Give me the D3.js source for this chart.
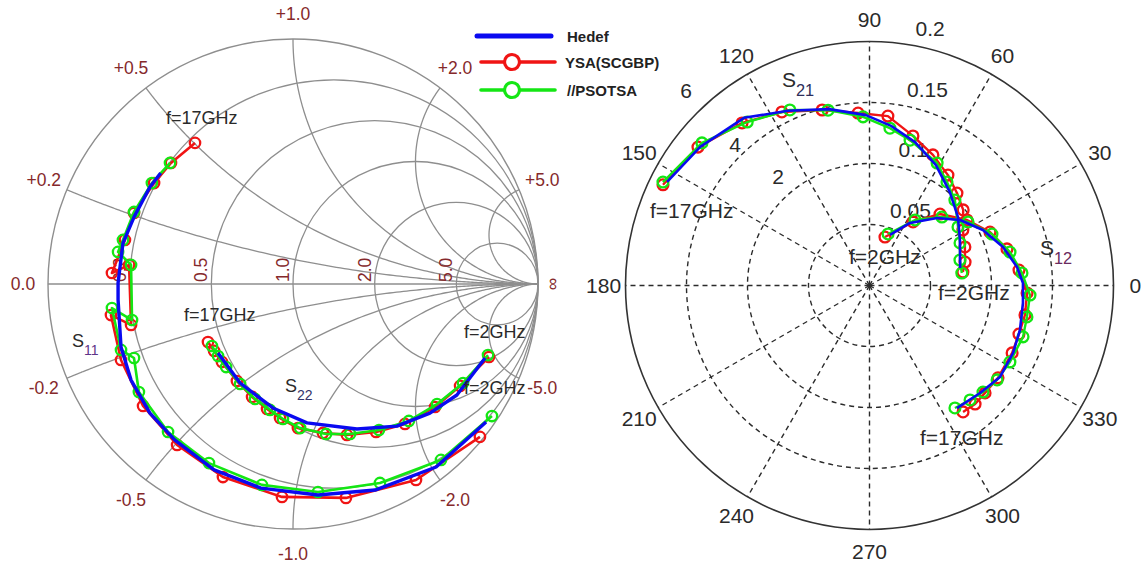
<!DOCTYPE html>
<html>
<head>
<meta charset="utf-8">
<script src="https://cdn.jsdelivr.net/npm/d3@7"></script>
<style>
  html, body { margin: 0; padding: 0; background: #fff; }
  svg { display: block; font-family: "Liberation Sans", Arial, Helvetica, sans-serif; }
</style>
</head>
<body>
<svg id="chart" width="1147" height="570"></svg>
<script>
// ---------- Smith chart data: reflection coefficient [Re, Im], 17 GHz -> 2 GHz ----------
const s11Hedef = [[-0.540,0.453],[-0.584,0.396],[-0.649,0.273],[-0.694,0.167],[-0.714,0.004],[-0.714,-0.065],
  [-0.702,-0.257],[-0.661,-0.392],[-0.584,-0.527],[-0.482,-0.637],[-0.322,-0.759],[-0.131,-0.833],
  [0.102,-0.861],[0.335,-0.841],[0.584,-0.747],[0.788,-0.563]];
const s11Ysa = [[-0.400,0.576],[-0.498,0.494],[-0.567,0.412],[-0.649,0.290],[-0.686,0.180],[-0.739,0.045],
  [-0.669,0.078],[-0.661,-0.167],[-0.743,-0.127],[-0.702,-0.310],[-0.612,-0.498],[-0.473,-0.657],
  [-0.286,-0.788],[-0.045,-0.869],[0.216,-0.873],[0.502,-0.800],[0.763,-0.624]];
const s11Pso = [[-0.502,0.494],[-0.576,0.412],[-0.649,0.294],[-0.694,0.180],[-0.714,0.131],[-0.661,0.078],
  [-0.657,-0.147],[-0.739,-0.098],[-0.702,-0.269],[-0.649,-0.302],[-0.629,-0.441],[-0.510,-0.604],
  [-0.343,-0.731],[-0.127,-0.820],[0.102,-0.849],[0.355,-0.812],[0.604,-0.718],[0.812,-0.539]];

const s22Hedef = [[-0.306,-0.282],[-0.216,-0.404],[-0.082,-0.506],[0.057,-0.567],[0.261,-0.592],
  [0.424,-0.580],[0.559,-0.527],[0.669,-0.453],[0.784,-0.302]];
const s22Ysa = [[-0.347,-0.237],[-0.322,-0.273],[-0.290,-0.318],[-0.229,-0.396],[-0.167,-0.461],
  [-0.106,-0.510],[-0.053,-0.547],[0.020,-0.588],[0.122,-0.608],[0.220,-0.616],[0.339,-0.604],
  [0.457,-0.571],[0.580,-0.502],[0.682,-0.416],[0.800,-0.298]];
const s22Pso = [[-0.331,-0.253],[-0.306,-0.294],[-0.273,-0.339],[-0.216,-0.408],[-0.155,-0.469],
  [-0.094,-0.514],[-0.041,-0.551],[0.029,-0.588],[0.135,-0.612],[0.233,-0.612],[0.351,-0.596],
  [0.473,-0.559],[0.588,-0.490],[0.694,-0.404],[0.796,-0.290]];

// ---------- Polar data: [magnitude, angle in degrees] ----------
const s21Hedef = [[5.59,152.9],[5.38,140.7],[5.15,126.8],[4.74,115.0],[4.45,102.9],[4.19,91.2],[3.96,82.3],
  [3.70,72.4],[3.38,61.1],[3.03,49.3],[2.75,37.7],[2.49,26.7],[2.27,10.9]];
const s21Ysa = [[5.65,154.0],[5.42,141.1],[5.08,128.1],[4.78,116.8],[4.47,105.1],[4.25,93.8],[4.19,83.8],
  [3.83,73.8],[3.57,64.1],[3.33,54.6],[3.13,46.6],[2.96,38.9],[2.67,30.7],[2.53,22.0],[2.42,13.8],[2.32,8.2]];
const s21Pso = [[5.68,153.4],[5.41,139.6],[5.02,126.8],[4.74,114.4],[4.43,103.3],[4.15,92.2],[3.90,82.6],
  [3.71,74.4],[3.44,61.1],[3.18,53.2],[2.97,45.0],[2.61,33.5],[2.46,25.2],[2.31,15.7],[2.29,7.7]];

const s12Hedef = [[0.0447,67.9],[0.0611,57.1],[0.0783,45.0],[0.0916,35.9],[0.1035,26.1],[0.1139,16.1],
  [0.1219,7.1],[0.1258,0.9],[0.1266,-6.5],[0.1286,-16.5],[0.1300,-25.2],[0.1306,-35.0],[0.1264,-44.2],[0.1234,-54.5]];
const s12Ysa = [[0.0417,72.3],[0.0631,55.6],[0.0823,45.4],[0.0963,33.9],[0.1080,23.9],[0.1166,14.9],
  [0.1232,5.9],[0.1293,-2.7],[0.1297,-10.7],[0.1288,-18.0],[0.1293,-25.3],[0.1297,-35.7],[0.1293,-42.9],
  [0.1301,-48.3],[0.1289,-53.5]];
const s12Pso = [[0.0449,70.2],[0.0654,55.2],[0.0817,43.4],[0.0961,32.8],[0.1089,22.8],[0.1184,13.4],
  [0.1254,4.7],[0.1318,-3.4],[0.1316,-11.3],[0.1327,-18.5],[0.1311,-28.6],[0.1301,-36.5],[0.1276,-43.2],
  [0.1249,-48.7],[0.1224,-55.1]];

// ---------- Grid values and tick labels ----------
const resistanceValues = [0.2, 0.5, 1, 2, 5];
const resistanceLabels = ["0.2", "0.5", "1.0", "2.0", "5.0"];
const reactanceValues = [0.2, 0.5, 1, 2, 5, -0.2, -0.5, -1, -2, -5];
const reactanceLabelValues = [0, 0.2, 0.5, 1, 2, 5, -0.2, -0.5, -1, -2, -5];
const polarAngles = [0, 30, 60, 90, 120, 150, 180, 210, 240, 270, 300, 330];
const s12Rings = [0.05, 0.1, 0.15, 0.2];
const s12RingLabels = ["0.05", "0.1", "0.15", "0.2"];
const s21RingLabels = ["2", "4", "6"];
const legendNames = ["Hedef", "YSA(SCGBP)", "//PSOTSA"];

// ---------- Styles ----------
const C = { hedef: "#0a0af0", ysa: "#f01414", pso: "#14e614", grid: "#8e8e8e",
            smithLabel: "#85292b", text: "#2a2a2a", polarGrid: "#2b2b2b" };

const svg = d3.select("#chart");

// ================= Smith chart =================
const smith = { cx: 293, cy: 284, R: 245 };
const sx = d3.scaleLinear().domain([-1, 1]).range([smith.cx - smith.R, smith.cx + smith.R]);
const sy = d3.scaleLinear().domain([-1, 1]).range([smith.cy + smith.R, smith.cy - smith.R]);
const gS = svg.append("g");

// Gamma = (z-1)/(z+1) for z = r + jx
const gamma = (r, x) => { const d = (r + 1) * (r + 1) + x * x; return [(r * r - 1 + x * x) / d, 2 * x / d]; };
const smithLine = d3.line().x(d => sx(d[0])).y(d => sy(d[1]));

gS.append("circle").attr("cx", sx(0)).attr("cy", sy(0)).attr("r", sx(1) - sx(0))
  .attr("fill", "none").attr("stroke", C.grid).attr("stroke-width", 1.4);
resistanceValues.forEach(r => {
  const c = r / (1 + r), rad = 1 / (1 + r);
  gS.append("circle").attr("cx", sx(c)).attr("cy", sy(0)).attr("r", sx(rad) - sx(0))
    .attr("fill", "none").attr("stroke", C.grid).attr("stroke-width", 1.3);
});
const rSweep = [0].concat(d3.range(0, 420).map(i => Math.pow(10, -3 + i * 0.015)));
reactanceValues.forEach(x => {
  gS.append("path").datum(rSweep.map(r => gamma(r, x))).attr("d", smithLine)
    .attr("fill", "none").attr("stroke", C.grid).attr("stroke-width", 1.3);
});
gS.append("line").attr("x1", sx(-1)).attr("x2", sx(1)).attr("y1", sy(0)).attr("y2", sy(0))
  .attr("stroke", C.grid).attr("stroke-width", 1.4);

// reactance labels around the rim
reactanceLabelValues.forEach(x => {
  const p = gamma(0, x), a = Math.atan2(p[1], p[0]), k = 1.102;
  gS.append("text").attr("x", sx(k * Math.cos(a))).attr("y", sy(k * Math.sin(a)))
    .attr("text-anchor", "middle").attr("dominant-baseline", "central")
    .attr("font-size", 17.5).attr("fill", C.smithLabel)
    .text((x > 0 ? "+" : "") + x.toFixed(1));
});
gS.append("text").attr("transform", `translate(${sx(1) + 14},${sy(0)}) rotate(-90)`)
  .attr("text-anchor", "middle").attr("dominant-baseline", "central")
  .attr("font-size", 17.5).attr("fill", C.smithLabel).text("\u221E");
// resistance labels along the real axis
resistanceValues.forEach((r, i) => {
  const g = (r - 1) / (r + 1);
  gS.append("text").attr("transform", `translate(${sx(g) - 4},${sy(0) - 2}) rotate(-90)`)
    .attr("text-anchor", "start").attr("font-size", 17.5).attr("fill", C.smithLabel)
    .text(resistanceLabels[i]);
});

function smithSeries(pts, color, w, markers) {
  gS.append("path").datum(pts).attr("d", smithLine).attr("fill", "none")
    .attr("stroke", color).attr("stroke-width", w).attr("stroke-linejoin", "round");
  if (markers) {
    gS.append("g").selectAll("circle").data(pts).join("circle")
      .attr("cx", d => sx(d[0])).attr("cy", d => sy(d[1])).attr("r", 5.2)
      .attr("fill", "none").attr("stroke", color).attr("stroke-width", 2.3);
  }
}
smithSeries(s11Ysa, C.ysa, 2.6, true);
smithSeries(s22Ysa, C.ysa, 2.6, true);
smithSeries(s11Pso, C.pso, 2.6, true);
smithSeries(s22Pso, C.pso, 2.6, true);
smithSeries(s11Hedef, C.hedef, 3.4, false);
smithSeries(s22Hedef, C.hedef, 3.4, false);

function note(g, x, y, txt, size) {
  g.append("text").attr("x", x).attr("y", y).attr("dominant-baseline", "central")
    .attr("font-size", size).attr("fill", C.text).text(txt);
}
function sLabel(g, x, y, sub, size, subColor) {
  const t = g.append("text").attr("x", x).attr("y", y).attr("font-size", size).attr("fill", C.text);
  t.append("tspan").text("S");
  t.append("tspan").attr("dy", size * 0.42).attr("font-size", size * 0.78).attr("fill", subColor).text(sub);
}
note(gS, 166, 118, "f=17GHz", 18);
note(gS, 184, 315, "f=17GHz", 18);
note(gS, 464, 332, "f=2GHz", 18);
note(gS, 464, 388, "f=2GHz", 18);
sLabel(gS, 72, 347, "11", 18, "#5e3388");
sLabel(gS, 285, 392, "22", 18, "#34346a");

// ================= Polar chart =================
const polar = { cx: 869.5, cy: 285.5, R: 244 };
const rS12 = d3.scaleLinear().domain([0, 0.2]).range([0, polar.R]);
const rS21 = d3.scaleLinear().domain([0, 6]).range([0, polar.R]);
const gP = svg.append("g").attr("transform", `translate(${polar.cx},${polar.cy})`);
const rad = deg => (90 - deg) * Math.PI / 180;   // compass angle for d3.lineRadial / pointRadial

// dashed rings and spokes
s12Rings.slice(0, -1).forEach(v => {
  gP.append("circle").attr("r", rS12(v)).attr("fill", "none").attr("stroke", C.polarGrid)
    .attr("stroke-width", 1.4).attr("stroke-dasharray", "5,4");
});
polarAngles.forEach(a => {
  const p = d3.pointRadial(rad(a), polar.R);
  gP.append("line").attr("x1", 0).attr("y1", 0).attr("x2", p[0]).attr("y2", p[1])
    .attr("stroke", C.polarGrid).attr("stroke-width", 1.4).attr("stroke-dasharray", "5,4");
});
gP.append("circle").attr("r", polar.R).attr("fill", "none").attr("stroke", "#333").attr("stroke-width", 1.6);

// angle labels
polarAngles.forEach(a => {
  const p = d3.pointRadial(rad(a), polar.R * 1.09);
  gP.append("text").attr("x", p[0]).attr("y", p[1]).attr("text-anchor", "middle")
    .attr("dominant-baseline", "central").attr("font-size", 21).attr("fill", C.text).text(a);
});
// S12 magnitude ring labels
s12Rings.forEach((v, i) => {
  const r = rS12(v), a = 82 * Math.PI / 180;
  gP.append("text").attr("x", 12 + r * Math.cos(a)).attr("y", -15 - r * Math.sin(a))
    .attr("dominant-baseline", "central").attr("font-size", 21).attr("fill", C.text)
    .text(s12RingLabels[i]);
});
// S21 magnitude ring labels (placed along the upper-left spoke gap)
const s21LabelPlace = [[130.1, 142], [133.7, 194.5], [133.2, 268]];
s21RingLabels.forEach((t, i) => {
  const p = d3.pointRadial(rad(s21LabelPlace[i][0]), s21LabelPlace[i][1]);
  gP.append("text").attr("x", p[0]).attr("y", p[1]).attr("text-anchor", "middle")
    .attr("dominant-baseline", "central").attr("font-size", 21).attr("fill", C.text).text(t);
});

function polarSeries(pts, scale, color, w, markers) {
  const line = d3.lineRadial().angle(d => rad(d[1])).radius(d => scale(d[0]));
  gP.append("path").datum(pts).attr("d", line).attr("fill", "none")
    .attr("stroke", color).attr("stroke-width", w).attr("stroke-linejoin", "round");
  if (markers) {
    gP.append("g").selectAll("circle").data(pts).join("circle")
      .attr("cx", d => d3.pointRadial(rad(d[1]), scale(d[0]))[0])
      .attr("cy", d => d3.pointRadial(rad(d[1]), scale(d[0]))[1])
      .attr("r", 5.4).attr("fill", "none").attr("stroke", color).attr("stroke-width", 2.3);
  }
}
polarSeries(s21Ysa, rS21, C.ysa, 2.4, true);
polarSeries(s12Ysa, rS12, C.ysa, 2.4, true);
polarSeries(s21Pso, rS21, C.pso, 2.4, true);
polarSeries(s12Pso, rS12, C.pso, 2.4, true);
polarSeries(s21Hedef, rS21, C.hedef, 2.6, false);
polarSeries(s12Hedef, rS12, C.hedef, 2.6, false);

note(svg, 650, 210, "f=17GHz", 21);
note(svg, 938, 292, "f=2GHz", 21);
note(svg, 849, 256, "f=2GHz", 21);
note(svg, 920, 437, "f=17GHz", 21);
sLabel(svg, 782, 87, "21", 21, "#2e2e5a");
sLabel(svg, 1040, 255, "12", 21, "#6a2a5e");

// ================= Legend =================
const legend = svg.append("g");
const legendColors = [C.hedef, C.ysa, C.pso];
const legendRows = [36, 62, 90];
legendNames.forEach((name, i) => {
  const y = legendRows[i], x0 = i === 0 ? 477 : 481;
  legend.append("line").attr("x1", x0).attr("x2", x0 + 74).attr("y1", y).attr("y2", y)
    .attr("stroke", legendColors[i]).attr("stroke-width", i === 0 ? 5 : 3.6).attr("stroke-linecap", "round");
  if (i > 0) {
    legend.append("circle").attr("cx", x0 + 31).attr("cy", y).attr("r", 7.5)
      .attr("fill", "#fff").attr("stroke", legendColors[i]).attr("stroke-width", 3.2);
  }
  legend.append("text").attr("x", i === 1 ? 565 : 567).attr("y", y).attr("dominant-baseline", "central")
    .attr("font-size", 15).attr("font-weight", "bold").attr("fill", "#222").text(name);
});
</script>
</body>
</html>
